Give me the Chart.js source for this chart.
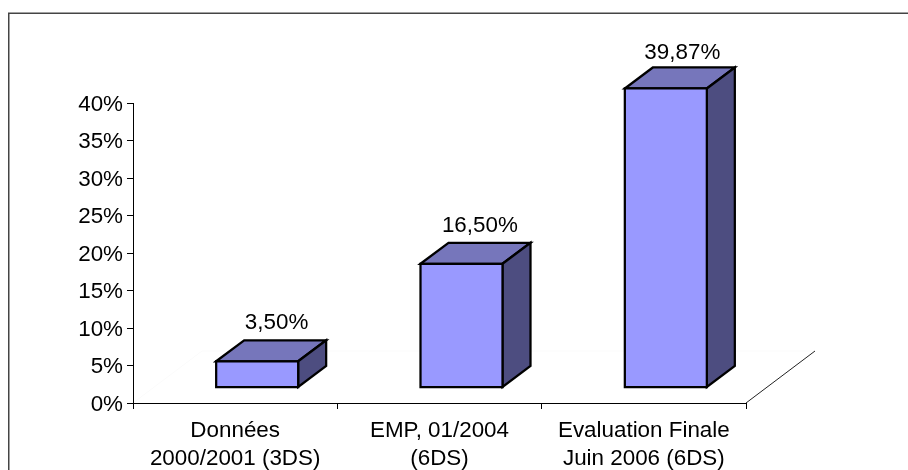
<!DOCTYPE html>
<html>
<head>
<meta charset="utf-8">
<style>
    html, body { margin: 0; padding: 0; background: #fff; overflow: hidden; }
    canvas { display: block; }
</style>
<script src="https://cdn.jsdelivr.net/npm/chart.js@4"></script>
</head>
<body>
<canvas id="chart" width="908" height="470"></canvas>
<script>
const categories = [['Données', '2000/2001 (3DS)'], ['EMP, 01/2004', '(6DS)'], ['Evaluation Finale', 'Juin 2006 (6DS)']];
const values = [3.5, 16.5, 39.87];
const yTicks = ['0%', '5%', '10%', '15%', '20%', '25%', '30%', '35%', '40%'];

const THEME = {
    front: '#9999ff',
    top: '#7676bb',
    side: '#4d4d80',
    frame: '#444444',
    wall: '#fbfbfb',
    text: '#000000',
};
const FONT = 'Liberation Sans, Arial, sans-serif';
const FONT_SIZE = 22.4;
const EDGE = 2.25;

// 3d look: bars sit on the middle of the floor, floor runs back by DEPTH
const SHIFT = { x: 22, y: -15.5 };
const BAR_DEPTH = { x: 28, y: -21 };
const DEPTH = { x: 69, y: -52 };

function poly(ctx, pts, fill) {
    ctx.beginPath();
    pts.forEach((p, i) => (i ? ctx.lineTo(p[0], p[1]) : ctx.moveTo(p[0], p[1])));
    ctx.closePath();
    if (fill) {
        ctx.fillStyle = fill;
        ctx.fill();
    }
    ctx.lineWidth = EDGE;
    ctx.lineJoin = 'miter';
    ctx.strokeStyle = '#000';
    ctx.stroke();
}

const bars3d = {
    id: 'bars3d',
    beforeDraw(chart) {
        const { ctx, chartArea: a } = chart;
        ctx.save();
        // outer frame, runs off the right and bottom of the picture
        ctx.strokeStyle = THEME.frame;
        ctx.lineWidth = 1.5;
        ctx.strokeRect(8.75, 13.25, 1000, 1000);
        // barely visible floor edge + wall line
        ctx.strokeStyle = THEME.wall;
        ctx.lineWidth = 1;
        ctx.beginPath();
        ctx.moveTo(a.left, a.bottom);
        ctx.lineTo(a.left + DEPTH.x, a.bottom + DEPTH.y);
        ctx.lineTo(a.right + DEPTH.x, a.bottom + DEPTH.y);
        ctx.stroke();
        // floor edge on the right
        ctx.strokeStyle = '#222';
        ctx.beginPath();
        ctx.moveTo(a.right, a.bottom);
        ctx.lineTo(a.right + DEPTH.x, a.bottom + DEPTH.y);
        ctx.stroke();
        ctx.restore();
    },
    beforeDatasetDraw(chart) {
        const ctx = chart.ctx;
        ctx.save();
        ctx.translate(SHIFT.x, SHIFT.y);
        chart.getDatasetMeta(0).data.forEach(bar => {
            const r = bar.x + bar.width / 2, l = bar.x - bar.width / 2;
            const t = bar.y, b = bar.base;
            const dx = BAR_DEPTH.x, dy = BAR_DEPTH.y;
            poly(ctx, [[l, t], [l + dx, t + dy], [r + dx, t + dy], [r, t]], THEME.top);
            poly(ctx, [[r, t], [r + dx, t + dy], [r + dx, b + dy], [r, b]], THEME.side);
        });
    },
    afterDatasetDraw(chart) {
        const ctx = chart.ctx;
        chart.getDatasetMeta(0).data.forEach((bar, i) => {
            const r = bar.x + bar.width / 2, l = bar.x - bar.width / 2;
            poly(ctx, [[l, bar.y], [r, bar.y], [r, bar.base], [l, bar.base]]);
            ctx.fillStyle = THEME.text;
            ctx.font = FONT_SIZE + 'px ' + FONT;
            ctx.textAlign = 'center';
            ctx.textBaseline = 'alphabetic';
            const label = values[i].toFixed(2).replace('.', ',') + '%';
            // labels creep towards the bar as it gets taller
            const lx = bar.x + 19.7 - values[i] * 0.08;
            const ly = bar.y + BAR_DEPTH.y - 12 + values[i] * 0.1;
            ctx.fillText(label, lx, ly);
        });
        ctx.restore();
    },
};

new Chart(document.getElementById('chart'), {
    type: 'bar',
    data: {
        labels: categories,
        datasets: [{
            data: values,
            backgroundColor: THEME.front,
            borderWidth: 0,
            barThickness: 82,
            clip: false,
        }],
    },
    options: {
        responsive: false,
        animation: false,
        layout: { padding: { top: 103, right: 162, left: 0, bottom: 0 } },
        plugins: { legend: { display: false }, tooltip: { enabled: false }, title: { display: false } },
        scales: {
            x: {
                afterFit: s => { s.height = 67; },
                border: { color: '#000', width: 1 },
                grid: { drawOnChartArea: false, color: '#000', tickLength: 6 },
                ticks: { color: THEME.text, font: { family: FONT, size: FONT_SIZE, lineHeight: 1.25 }, padding: 8, maxRotation: 0, autoSkip: false },
            },
            y: {
                min: 0,
                max: 40,
                afterFit: s => { s.width = 133; },
                border: { color: '#000', width: 1 },
                grid: { drawOnChartArea: false, color: '#000', tickLength: 6 },
                ticks: {
                    stepSize: 5,
                    color: THEME.text,
                    // empty first line pushes the label down a touch, as in the original
                    font: { family: FONT, size: FONT_SIZE, lineHeight: '3px' },
                    padding: 4,
                    callback: (v, i) => ['', yTicks[i]],
                },
            },
        },
    },
    plugins: [bars3d],
});
</script>
</body>
</html>
